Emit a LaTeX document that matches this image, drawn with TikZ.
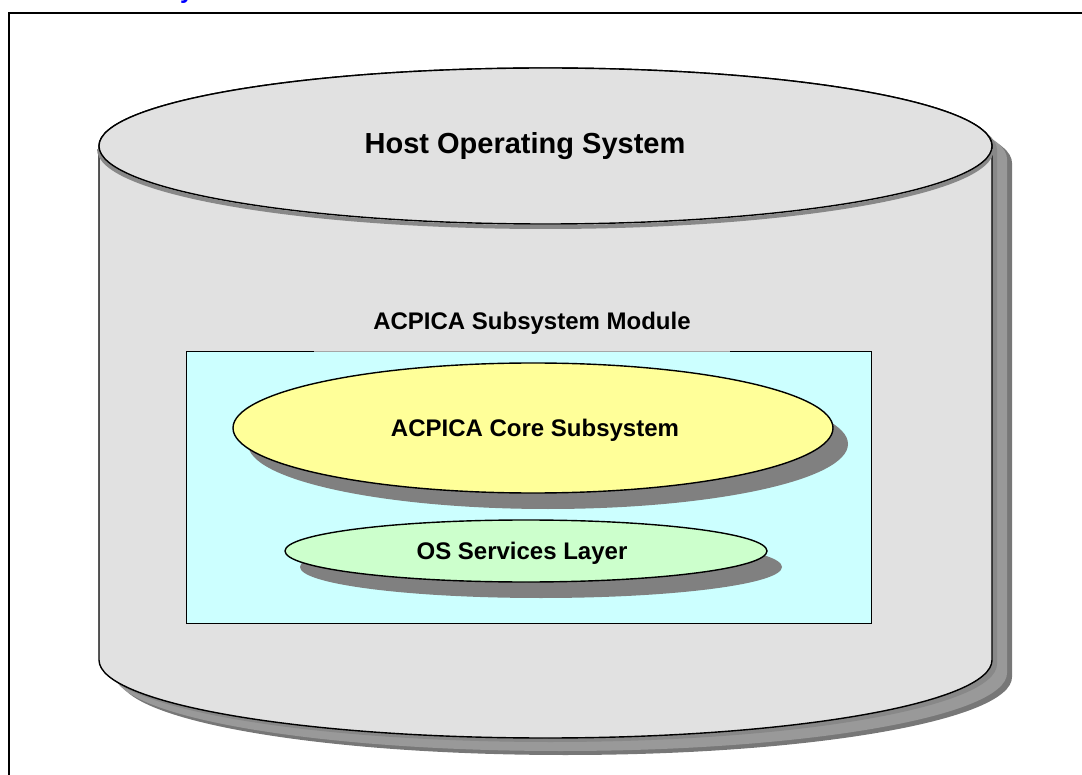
\documentclass[tikz,border=0pt]{standalone}
\usepackage{fontspec}
\setmainfont{Liberation Sans}
\usetikzlibrary{shapes.geometric,shadows}
\definecolor{cylfill}{HTML}{E1E1E1}
\definecolor{shA}{HTML}{777777}
\definecolor{shB}{HTML}{999999}
\definecolor{shC}{HTML}{888888}
\definecolor{modfill}{HTML}{CCFFFF}
\definecolor{corefill}{HTML}{FFFF99}
\definecolor{osfill}{HTML}{CCFFCC}
\definecolor{ellshadow}{HTML}{808080}
\definecolor{titleblue}{HTML}{0000FF}
\tikzset{
  lbl/.style={font=\bfseries\fontsize{24}{28}\selectfont, text=black},
  ovalbox/.style={ellipse, draw=black, line width=1.4pt, inner sep=0pt,
    drop shadow={shadow xshift=15pt, shadow yshift=-16pt, fill=ellshadow, opacity=1}},
}
\begin{document}
\begin{tikzpicture}[x=1pt, y=-1pt]
\useasboundingbox (0,0) rectangle (1082,775);
\begin{scope}
\clip (0,0) rectangle (1082,775);
% clipped title fragment
\node[anchor=base west, inner sep=0pt, text=titleblue, font=\bfseries\fontsize{24}{28}\selectfont] (ttl) at (180,-1) {y};
% frame
\draw[line width=2pt] (9,800) -- (9,13) -- (1100,13);
% cylinder shadows
\def\silhouette#1#2{(99+#1,146+#2) -- (99+#1,660+#2)
   arc[start angle=180, end angle=0, x radius=446.5, y radius=78]
   -- (992+#1,146+#2)
   arc[start angle=0, end angle=-180, x radius=446.5, y radius=78] -- cycle}
\fill[shA] \silhouette{20}{17};
\fill[shB] \silhouette{15}{13};
\fill[shC] \silhouette{5}{4};
% cylinder body
\filldraw[fill=cylfill, draw=black, line width=1.4pt] \silhouette{0}{0};
% thin shadow under top ellipse
\draw[shC, line width=4pt] (99,149) arc[start angle=180, end angle=0, x radius=446.5, y radius=78];
% top ellipse
\filldraw[fill=cylfill, draw=black, line width=1.4pt] (545.5,146) ellipse [x radius=446.5, y radius=78];
\node[lbl, font=\bfseries\fontsize{29}{34}\selectfont] (host) at (525,146) {Host Operating System};
% module box
\node[lbl] (modlbl) at (532,323) {ACPICA Subsystem Module};
\filldraw[fill=modfill, draw=black, line width=1pt] (186,352) rectangle (871,623);
\draw[gray!70, line width=1pt] (314,352) -- (730,352);
% ellipses
\node[ovalbox, fill=corefill, minimum width=600pt, minimum height=130pt] (core) at (533,428) {};
\node[lbl] (coretxt) at (535,430) {ACPICA Core Subsystem};
\node[ovalbox, fill=osfill, minimum width=482pt, minimum height=62pt] (os) at (526,551) {};
\node[lbl] (ostxt) at (522,553) {OS Services Layer};
\end{scope}
\end{tikzpicture}
\end{document}
